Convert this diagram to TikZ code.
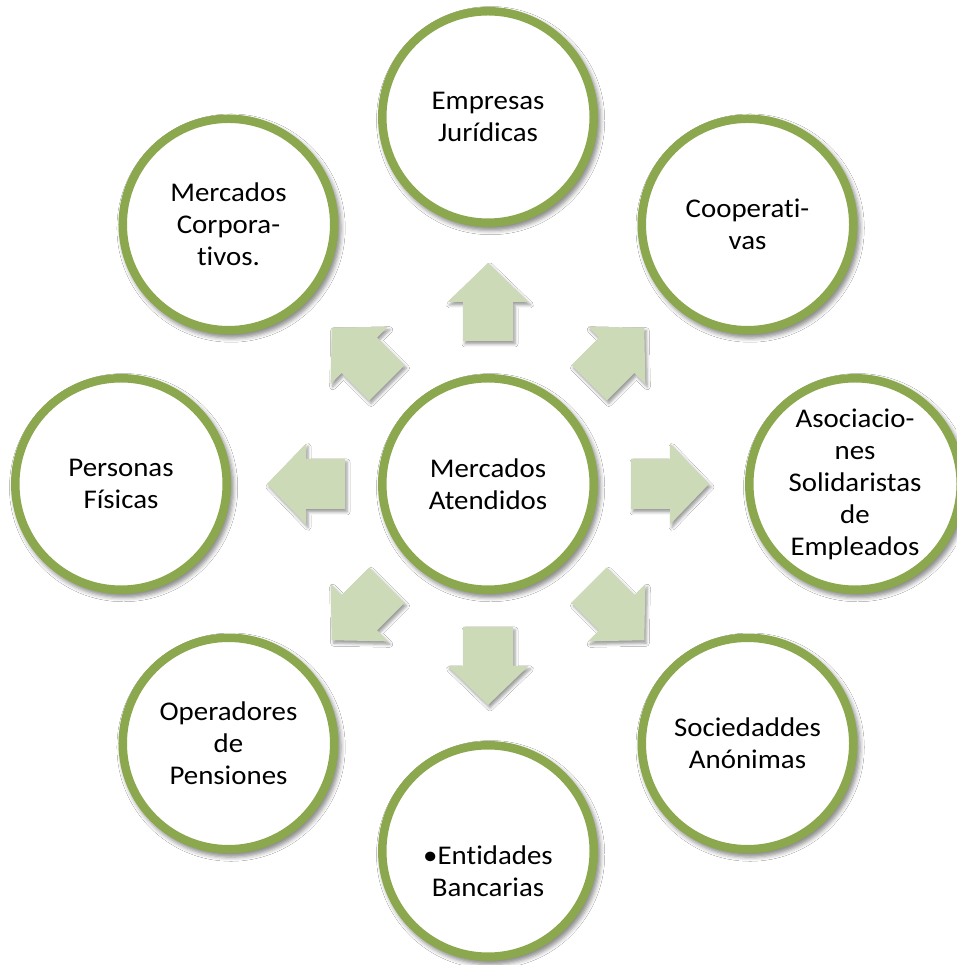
\documentclass[tikz,border=0pt]{standalone}
\usepackage{fontspec}
\setmainfont{Carlito}[FakeStretch=1.07, Ligatures=NoCommon]
\usetikzlibrary{calc,shadows.blur}
\definecolor{ringgreen}{RGB}{139,168,78}
\definecolor{arrowgreen}{RGB}{205,218,183}
\begin{document}
\begin{tikzpicture}[x=1pt,y=1pt,
  ring/.style={circle, draw=ringgreen, line width=8.5pt, fill=white,
    minimum size=211.5pt, inner sep=0pt, align=center,
    font=\fontsize{27}{32}\selectfont,
    blur shadow={shadow xshift=2.5pt, shadow yshift=-3.5pt, shadow scale=1.04,
      shadow blur radius=4pt, shadow opacity=45}},
  plaintext/.style={align=center, inner sep=0pt, font=\fontsize{27}{32}\selectfont},
  arrowshape/.style={fill=arrowgreen,
    blur shadow={shadow xshift=2pt, shadow yshift=-3pt,
      shadow blur radius=3pt, shadow opacity=40}}
]
\useasboundingbox (0,0) rectangle (956,965);
\fill[white] (0,0) rectangle (956,965);
\coordinate (o) at (488,481);

% arrows
\foreach \a in {0,45,...,315}{
  \fill[arrowshape]
    ($(o)+(\a:143)+(\a+90:25)$) -- ($(o)+(\a:182)+(\a+90:25)$) --
    ($(o)+(\a:182)+(\a+90:40.5)$) -- ($(o)+(\a:221)$) --
    ($(o)+(\a:182)+(\a-90:40.5)$) -- ($(o)+(\a:182)+(\a-90:25)$) --
    ($(o)+(\a:143)+(\a-90:25)$) -- cycle;
}

% circles
\node[ring] (mc) at (o) {Mercados\\Atendidos};
\node[ring] (ej) at ($(o)+(90:367)$) {Empresas\\Jurídicas};
\node[ring] (co) at ($(o)+(45:367)$) {Cooperati-\\vas};
\node[ring] (as) at ($(o)+(0:367)$) {Asociacio-\\nes\\Solidaristas\\de\\Empleados};
\node[ring] (sa) at ($(o)+(-45:367)$) {Sociedaddes\\Anónimas};
\node[ring] (eb) at ($(o)+(-90:367)$) {};
\node[plaintext] (ebt) at ($(eb)+(0,-20)$) {•Entidades\\Bancarias};
\node[ring] (op) at ($(o)+(-135:367)$) {Operadores\\de\\Pensiones};
\node[ring] (pf) at ($(o)+(180:367)$) {Personas\\Físicas};
\node[ring] (mco) at ($(o)+(135:367)$) {Mercados\\Corpora-\\tivos.};
\end{tikzpicture}
\end{document}
